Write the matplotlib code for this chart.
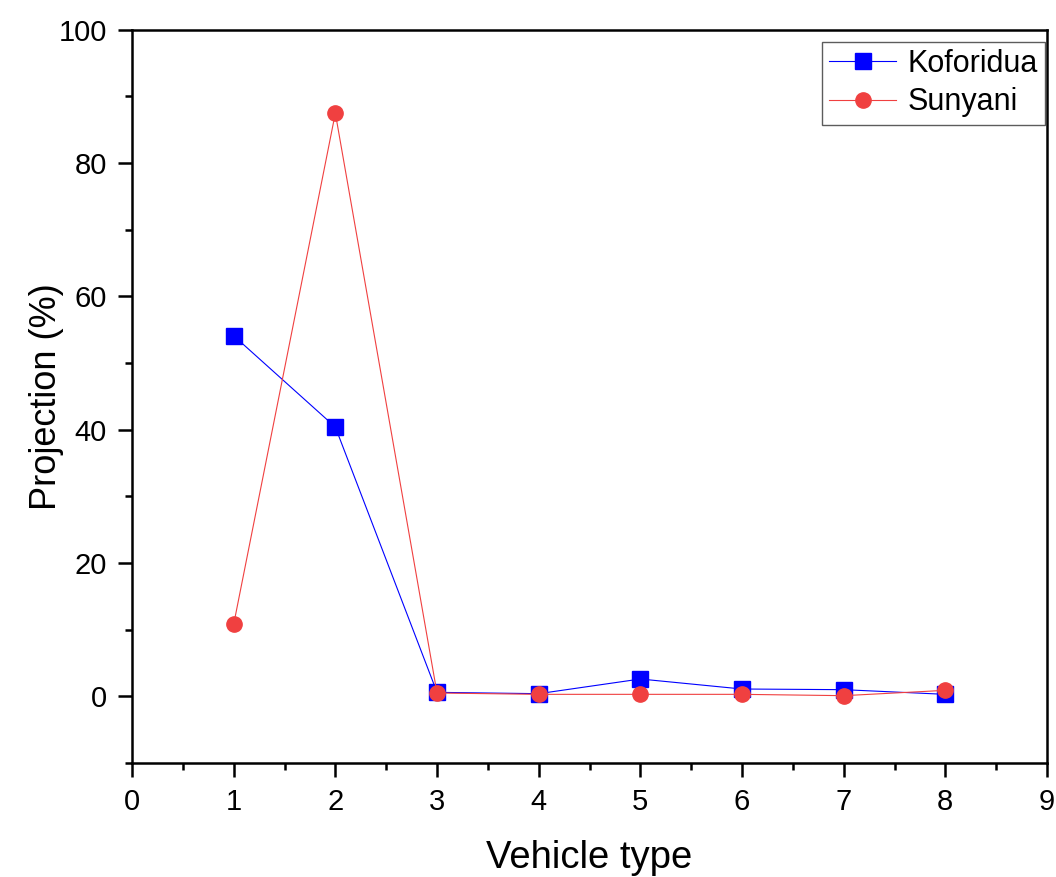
import matplotlib.pyplot as plt
import numpy as np

plt.rcParams['font.family'] = ['Liberation Sans', 'DejaVu Sans']

vehicle_type = [1, 2, 3, 4, 5, 6, 7, 8]
koforidua = [54.1, 40.4, 0.6, 0.4, 2.6, 1.1, 1.0, 0.3]
sunyani = [10.8, 87.5, 0.5, 0.3, 0.3, 0.3, 0.1, 0.9]

fig = plt.figure(figsize=(10.56, 8.77), dpi=100)
ax = fig.add_axes([0.125, 0.13, 0.8665, 0.836])

ax.plot(vehicle_type, koforidua, color='#0000ff', lw=0.8, marker='s', markersize=11,
        label='Koforidua', zorder=3)
ax.plot(vehicle_type, sunyani, color='#f04040', lw=0.8, marker='o', markersize=11,
        label='Sunyani', zorder=4)

ax.set_xlim(0, 9)
ax.set_ylim(-10, 100)
ax.set_xticks(np.arange(0, 10, 1))
ax.set_xticks(np.arange(0.5, 9, 1), minor=True)
ax.set_yticks([0, 20, 40, 60, 80, 100])
ax.set_yticks(np.arange(-10, 100, 20), minor=True)
ax.tick_params(axis='both', which='major', direction='out', length=10, width=1.8,
               labelsize=21, pad=8)
ax.tick_params(axis='both', which='minor', direction='out', length=5, width=1.8)
for s in ax.spines.values():
    s.set_linewidth(1.8)

ax.set_xlabel('Vehicle type', fontsize=27.5, labelpad=17)
ax.set_ylabel('Projection (%)', fontsize=26, labelpad=-4)

leg = ax.legend(loc='upper right', bbox_to_anchor=(0.998, 0.984), fontsize=22,
                frameon=True, fancybox=False, edgecolor='#333333', borderaxespad=0,
                handlelength=2.2, borderpad=0.25, labelspacing=0.27, handletextpad=0.35)
leg.get_frame().set_linewidth(1.0)

fig.savefig('out.png', dpi=100)
